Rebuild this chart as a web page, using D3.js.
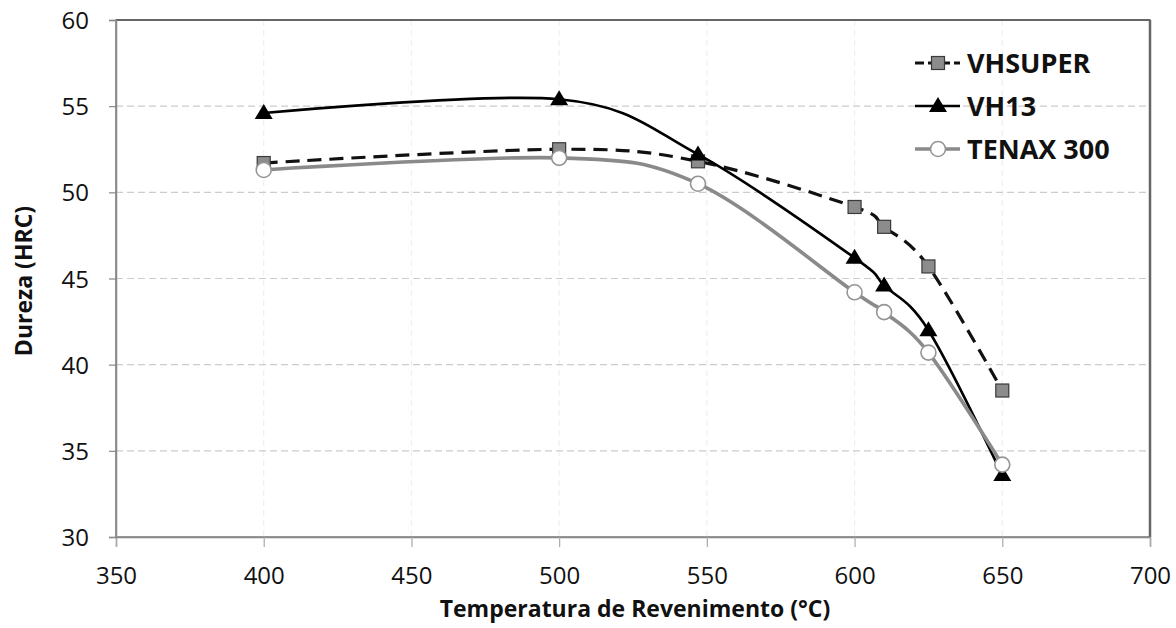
<!DOCTYPE html>
<html>
<head>
<meta charset="utf-8">
<script src="https://cdnjs.cloudflare.com/ajax/libs/d3/7.8.5/d3.min.js"></script>
<style>
  body { margin:0; background:#fff; }
  .tick text { font-family:"Open Sans", sans-serif; font-size:24px; fill:#111; }
</style>
</head>
<body>
<div id="canvas"></div>
<script>
// data
var temps = [400, 500, 547, 600, 610, 625, 650];
var vhsuper = [51.7, 52.5, 51.8, 49.15, 48.0, 45.7, 38.5];
var vh13 = [54.6, 55.4, 52.2, 46.2, 44.6, 42.0, 33.6];
var tenax = [51.3, 52.0, 50.5, 44.2, 43.05, 40.7, 34.2];
var seriesNames = ['VHSUPER', 'VH13', 'TENAX 300'];
var xTicks = [350, 400, 450, 500, 550, 600, 650, 700];
var yTicks = [30, 35, 40, 45, 50, 55, 60];

var W = 1176, H = 628;
var m = {t:20, r:26, b:91, l:116};
var w = W - m.l - m.r, h = H - m.t - m.b;

var svg = d3.select('#canvas').append('svg')
  .attr('width', W).attr('height', H);
var plot = svg.append('g')
  .attr('transform', 'translate(' + m.l + ',' + m.t + ')');

var scaleX = d3.scaleLinear().domain([350, 700]).range([0, w]);
var scaleY = d3.scaleLinear().domain([30, 60]).range([h, 0]);

// gridlines
plot.append('g').selectAll('line.gx')
  .data(xTicks.slice(1, -1)).enter().append('line')
  .attr('x1', function(d){ return scaleX(d); })
  .attr('x2', function(d){ return scaleX(d); })
  .attr('y1', 0).attr('y2', h)
  .attr('stroke', '#f0f0f0').attr('stroke-width', 1.2)
  .attr('stroke-dasharray', '6,4');
plot.append('g').selectAll('line.gy')
  .data(yTicks.slice(1, -1)).enter().append('line')
  .attr('x1', 0).attr('x2', w)
  .attr('y1', function(d){ return scaleY(d); })
  .attr('y2', function(d){ return scaleY(d); })
  .attr('stroke', '#cccccc').attr('stroke-width', 1.2)
  .attr('stroke-dasharray', '7,4');

// frame
plot.append('rect').attr('x', 0).attr('y', 0).attr('width', w).attr('height', h)
  .attr('fill', 'none').attr('stroke', '#7a7a7a').attr('stroke-width', 1.5);
plot.append('line').attr('x1', 0).attr('x2', w).attr('y1', 0).attr('y2', 0)
  .attr('stroke', '#666').attr('stroke-width', 2);
plot.append('line').attr('x1', w).attr('x2', w).attr('y1', 0).attr('y2', h)
  .attr('stroke', '#666').attr('stroke-width', 2.5);

// axes
var axisX = d3.axisBottom(scaleX).tickValues(xTicks).tickSize(10).tickPadding(20)
  .tickFormat(d3.format('d'));
var axisY = d3.axisLeft(scaleY).tickValues(yTicks).tickSize(7).tickPadding(20);
var gx = plot.append('g').attr('class', 'axis')
  .attr('transform', 'translate(0,' + h + ')').call(axisX);
var gy = plot.append('g').attr('class', 'axis').call(axisY);
gx.select('.domain').attr('stroke', '#888').attr('stroke-width', 1.5);
gy.select('.domain').attr('stroke', '#888').attr('stroke-width', 1.5);
gx.selectAll('.tick line').attr('stroke', '#aaa').attr('stroke-width', 1.2);
gy.selectAll('.tick line').attr('stroke', '#888').attr('stroke-width', 1.2);
gy.selectAll('.tick text').attr('dy', '0.36em');

// axis titles
svg.append('text')
  .attr('x', 635).attr('y', 617)
  .attr('text-anchor', 'middle')
  .style('font-family', '"Open Sans", sans-serif').style('font-weight', 'bold')
  .style('font-size', '23px').attr('fill', '#111')
  .text('Temperatura de Revenimento (°C)');
svg.append('text')
  .attr('transform', 'translate(32,' + 281 + ') rotate(-90)')
  .attr('text-anchor', 'middle')
  .style('font-family', '"Open Sans", sans-serif').style('font-weight', 'bold')
  .style('font-size', '23px').attr('fill', '#111')
  .text('Dureza (HRC)');

// series
var line = d3.line()
  .x(function(d){ return scaleX(d.t); })
  .y(function(d){ return scaleY(d.v); })
  .curve(d3.curveCardinal.tension(0));

function pts(vals){ return temps.map(function(t, i){ return {t:t, v:vals[i]}; }); }

var styles = [
  {vals:vhsuper, stroke:'#111', width:3.2, dash:'14,8', marker:'square'},
  {vals:vh13, stroke:'#000', width:2.6, dash:null, marker:'triangle'},
  {vals:tenax, stroke:'#8a8a8a', width:3.6, dash:null, marker:'circle'}
];

function drawMarker(g, type, x, y){
  if (type === 'square') {
    g.append('rect').attr('x', x - 6.5).attr('y', y - 6.5)
      .attr('width', 13).attr('height', 13)
      .attr('fill', '#8c8c8c').attr('stroke', '#3a3a3a').attr('stroke-width', 1.2);
  } else if (type === 'triangle') {
    g.append('path')
      .attr('d', 'M' + x + ',' + (y - 9) + 'L' + (x + 9) + ',' + (y + 6) + 'L' + (x - 9) + ',' + (y + 6) + 'Z')
      .attr('fill', '#000');
  } else {
    g.append('circle').attr('cx', x).attr('cy', y).attr('r', 7.5)
      .attr('fill', '#fff').attr('stroke', '#959595').attr('stroke-width', 1.6);
  }
}

styles.forEach(function(s){
  var data = pts(s.vals);
  var p = plot.append('path').datum(data).attr('d', line)
    .attr('fill', 'none').attr('stroke', s.stroke).attr('stroke-width', s.width);
  if (s.dash) p.attr('stroke-dasharray', s.dash);
  var g = plot.append('g');
  data.forEach(function(d){ drawMarker(g, s.marker, scaleX(d.t), scaleY(d.v)); });
});

// legend
var legY = [63, 106, 149];
var leg = svg.append('g');
styles.forEach(function(s, i){
  var y = legY[i];
  var l = leg.append('line').attr('x1', 915).attr('x2', 960).attr('y1', y).attr('y2', y)
    .attr('stroke', s.stroke).attr('stroke-width', s.width);
  if (s.dash) l.attr('stroke-dasharray', '9,4');
  drawMarker(leg, s.marker, 938, y);
  leg.append('text').attr('x', 967).attr('y', y).attr('dy', '0.36em')
    .style('font-family', '"Open Sans", sans-serif').style('font-weight', 'bold')
    .style('font-size', '27px').attr('fill', '#111')
    .text(seriesNames[i]);
});
</script>
</body>
</html>
